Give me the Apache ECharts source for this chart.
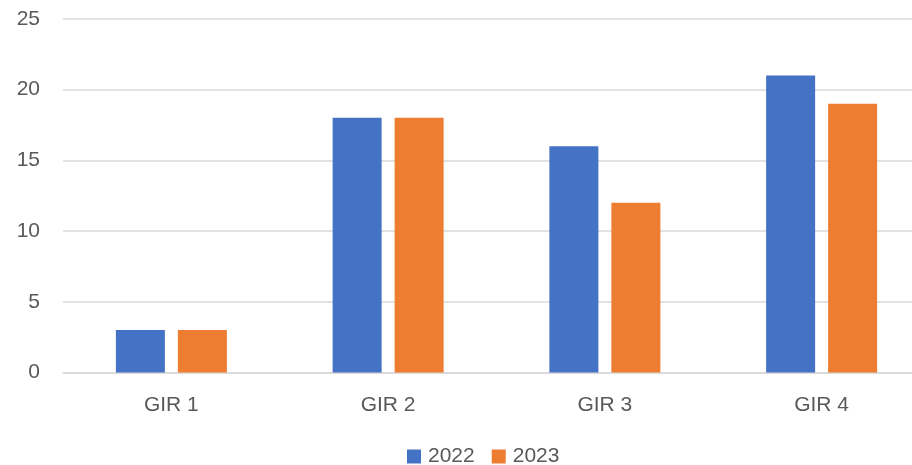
<!DOCTYPE html>
<html>
<head>
<meta charset="utf-8">
<script src="https://cdn.jsdelivr.net/npm/echarts@6/dist/echarts.min.js"></script>
<style>html,body{margin:0;padding:0;background:#fff;overflow:hidden;width:912px;height:465px;}#c{width:930px;height:465px;}</style>
</head>
<body>
<div id="c"></div>
<script>
const categories = ['GIR 1', 'GIR 2', 'GIR 3', 'GIR 4'];
const series2022 = [3, 18, 16, 21];
const series2023 = [3, 18, 12, 19];
const seriesNames = ['2022', '2023'];
const yTicks = { min: 0, max: 25, interval: 5 };

const chart = echarts.init(document.getElementById('c'));
const fontFamily = '"Liberation Sans", Arial, sans-serif';
chart.setOption({
  animation: false,
  textStyle: { fontFamily: fontFamily },
  grid: { left: 63, right: 0, top: 18.8, height: 353.7, containLabel: false },
  legend: {
    top: 446,
    left: 407,
    padding: 0,
    itemWidth: 14,
    itemHeight: 14,
    itemGap: 17,
    icon: 'rect',
    textStyle: { color: '#595959', fontSize: 21, fontFamily: fontFamily, padding: [0, 0, 0, 2] },
    data: seriesNames
  },
  xAxis: {
    type: 'category',
    data: categories,
    axisLine: { lineStyle: { color: '#d9d9d9', width: 1.5 } },
    axisTick: { show: false },
    axisLabel: { color: '#595959', fontSize: 21, margin: 22, fontFamily: fontFamily }
  },
  yAxis: {
    type: 'value',
    min: yTicks.min,
    max: yTicks.max,
    interval: yTicks.interval,
    axisLine: { show: false },
    axisTick: { show: false },
    splitLine: { lineStyle: { color: '#d9d9d9', width: 1.5 } },
    axisLabel: { color: '#595959', fontSize: 21, margin: 23, fontFamily: fontFamily }
  },
  series: [
    { name: seriesNames[0], type: 'bar', data: series2022, barWidth: 49, barGap: '26.5%', itemStyle: { color: '#4472C4' } },
    { name: seriesNames[1], type: 'bar', data: series2023, barWidth: 49, itemStyle: { color: '#ED7D31' } }
  ]
});
</script>
</body>
</html>
